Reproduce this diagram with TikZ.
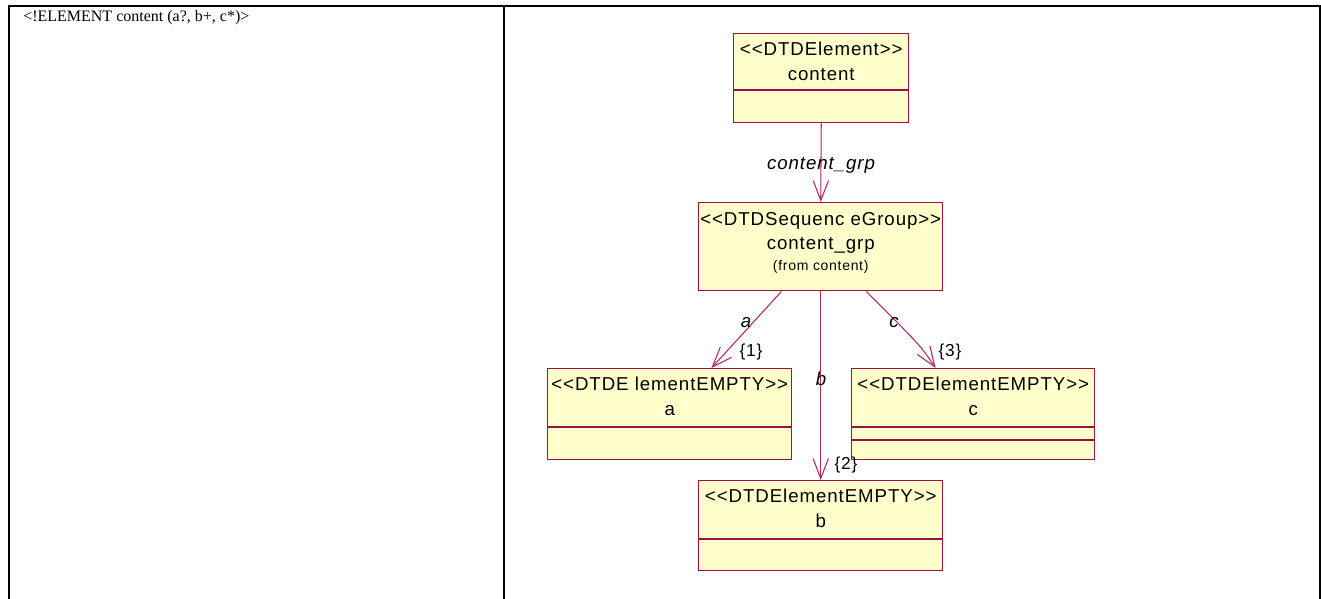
\documentclass[tikz,border=0pt]{standalone}
\usepackage{fontspec}
\setmainfont{Liberation Serif}
\newfontfamily\umlfont[LetterSpace=5]{Liberation Sans}
\usetikzlibrary{arrows.meta,calc}
\definecolor{umlred}{RGB}{158,16,68}
\definecolor{umlline}{RGB}{176,40,96}
\definecolor{umlfill}{RGB}{255,255,204}
\begin{document}
\begin{tikzpicture}[x=0.75pt,y=-0.75pt,
  umlbox/.style 2 args={draw=umlred, fill=umlfill, line width=1.1pt, rectangle, inner sep=0pt,
     anchor=north west, minimum width=#1*0.75pt, minimum height=#2*0.75pt},
  boxtext/.style={anchor=north, inner sep=0pt, align=center, font=\umlfont\fontsize{14pt}{18.5pt}\selectfont},
  lbl/.style={inner sep=0pt, font=\umlfont\itshape\fontsize{14pt}{16pt}\selectfont},
  mult/.style={inner sep=0pt, font=\umlfont\fontsize{13pt}{15pt}\selectfont},
  div/.style={draw=umlred, line width=0.9pt},
  assoc/.style={draw=umlline, line width=0.8pt, -{Straight Barb[length=15pt,width=11.5pt,line width=0.8pt]}},
  frame/.style={draw=black, line width=1.5pt}]
\useasboundingbox (0,0) rectangle (1321,599);
% table frame
\coordinate (tl) at (9,6);
\coordinate (tr) at (1320,6);
\coordinate (tm) at (503.5,6);
\coordinate (bl) at (9,599);
\coordinate (br) at (1320,599);
\coordinate (bm) at (503.5,599);
\draw[frame] (bl) -- (tl) -- (tr) -- (br);
\draw[frame] (tm) -- (bm);
\node[anchor=base west, inner sep=0pt, font=\fontsize{12pt}{14pt}\selectfont] (dtd) at (23,22) {<!ELEMENT content (a?, b+, c*)>};
% boxes
\node[umlbox={175}{89}] (content) at (733,33) {};
\node[umlbox={244}{88}] (grp) at (698,202) {};
\node[umlbox={244}{91}] (a) at (547,368) {};
\node[umlbox={243}{91}] (c) at (851,368) {};
\node[umlbox={244}{90}] (b) at (698,480) {};
% compartments
\draw[div] ($(content.north west)+(0,57)$) coordinate (cd1) -- (cd1 -| content.east);
\draw[div] ($(a.north west)+(0,59)$) coordinate (ad1) -- (ad1 -| a.east);
\draw[div] ($(c.north west)+(0,59)$) coordinate (cd2) -- (cd2 -| c.east);
\draw[div] ($(c.north west)+(0,72)$) coordinate (cd3) -- (cd3 -| c.east);
\draw[div] ($(b.north west)+(0,59)$) coordinate (bd1) -- (bd1 -| b.east);
% texts
\node[boxtext] (contentT) at ($(content.north)+(0,9)$) {<<DTDElement>>\\content};
\node[boxtext] (grpT) at ($(grp.north)+(0,10)$) {<<DTDSequenc eGroup>>\\content\_grp\\[-3pt]{\fontsize{10.5pt}{12pt}\selectfont(from content)}};
\node[boxtext] (aT) at ($(a.north)+(0,9)$) {<<DTDE lementEMPTY>>\\a};
\node[boxtext] (cT) at ($(c.north)+(0,9)$) {<<DTDElementEMPTY>>\\c};
\node[boxtext] (bT) at ($(b.north)+(0,9)$) {<<DTDElementEMPTY>>\\b};
% connectors
\draw[assoc] (content.south) -- (grp.north);
\draw[assoc] ($(grp.south west)!0.34!(grp.south east)$) -- ($(a.north west)!0.67!(a.north east)$);
\draw[assoc] (grp.south) -- (b.north);
\draw[assoc] ($(grp.south west)!0.686!(grp.south east)$) .. controls +(54,54) .. ($(c.north west)!0.346!(c.north east)$);
% labels
\node[lbl] (lgrp) at (821,165) {content\_grp};
\node[lbl] (la) at (746,323) {a};
\node[lbl] (lb) at (821,379) {b};
\node[lbl] (lc) at (894,323) {c};
\node[mult] (m1) at (751,352) {\{1\}};
\node[mult] (m2) at (846,465) {\{2\}};
\node[mult] (m3) at (950,352) {\{3\}};
\end{tikzpicture}
\end{document}
